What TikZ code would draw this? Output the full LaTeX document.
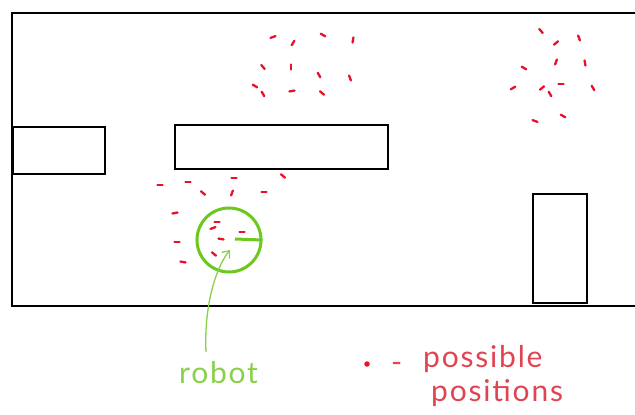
\documentclass[tikz,border=0pt]{standalone}
\usepackage{fontspec}
\setmainfont{Lato}
\usetikzlibrary{arrows.meta}
\definecolor{wallc}{HTML}{000000}
\definecolor{dotred}{HTML}{E8102A}
\definecolor{txtred}{HTML}{E04450}
\definecolor{robgreen}{HTML}{6CC81E}
\definecolor{txtgreen}{HTML}{8AD04A}
\tikzset{
  wall/.style={draw=wallc,line width=2.8pt},
  obst/.style={draw=wallc,line width=2.6pt,fill=white},
  pdot/.style={draw=dotred,line width=2.3pt,line cap=round},
  robotbody/.style={circle,draw=robgreen,line width=3pt,minimum size=64pt,inner sep=0pt},
  handtext/.style={font=\addfontfeatures{LetterSpace=6}\fontsize{30}{34}\selectfont,inner sep=0pt},
}
\newcommand{\pd}[3]{\draw[pdot] (#1,#2) -- ++(#3:2.6pt) (#1,#2) -- ++(#3+180:2.6pt);}
\begin{document}
\begin{tikzpicture}[x=1pt,y=-1pt]
\useasboundingbox (0,0) rectangle (635,415);
% room walls (right side open / cropped)
\draw[wall] (640,13) -- (12,13) -- (12,306) -- (640,306);
% obstacles
\draw[obst] (13,127) rectangle (105,174);
\draw[obst] (175,125) rectangle (388,169);
\draw[obst] (533,194) rectangle (587,303);
% possible positions, cluster 1
\pd{273}{37}{20}\pd{293}{43}{60}\pd{323}{35}{-30}\pd{353}{40}{80}
\pd{263}{67}{-50}\pd{291}{67}{90}\pd{319}{75}{-60}\pd{350}{78}{-70}
\pd{255}{86}{-30}\pd{263}{94}{-60}\pd{292}{91}{10}\pd{322}{93}{-40}
% cluster 2
\pd{541}{31}{-50}\pd{556}{43}{40}\pd{579}{38}{-70}\pd{524}{68}{-30}
\pd{556}{62}{70}\pd{585}{63}{-80}\pd{513}{88}{30}\pd{542}{88}{40}
\pd{561}{84}{0}\pd{550}{94}{-60}\pd{593}{88}{-60}\pd{535}{121}{-20}
\pd{563}{116}{-30}
% cluster 3 (around robot)
\pd{160}{185}{0}\pd{188}{182}{0}\pd{234}{178}{0}\pd{283}{176}{-40}
\pd{203}{193}{-40}\pd{232}{193}{70}\pd{264}{192}{0}\pd{175}{213}{10}
\pd{217}{222}{0}\pd{213}{228}{20}\pd{242}{232}{0}\pd{221}{239}{-10}
\pd{177}{242}{0}\pd{214}{254}{-40}\pd{183}{262}{-10}
% robot
\node[robotbody] (robot) at (229,240) {};
\coordinate (rc) at (235,239);
\draw[robgreen,line width=3pt] (rc) -- (robot.east);
% label
\node[handtext,text=txtgreen,anchor=base west] (lbl) at (179,383) {robot};
\coordinate (tail) at (206,352);
\coordinate (tip) at (230,250);
\draw[txtgreen,line width=1.3pt,-{Straight Barb[length=6pt,width=10pt]}]
  (tail) .. controls (204,310) and (214,270) .. (tip);
% legend
\node[circle,fill=dotred,inner sep=0pt,minimum size=5.5pt] (ldot) at (367,364) {};
\node[handtext,text=txtred,anchor=base west] (ldash) at (391,372) {-};
\node[handtext,text=txtred,anchor=north west,align=left] (ltext) at (423,345)
  {possible\\\hspace*{8pt}positions};
\end{tikzpicture}
\end{document}
